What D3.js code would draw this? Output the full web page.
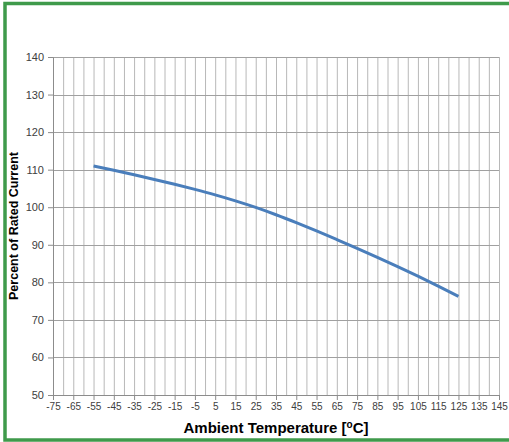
<!DOCTYPE html>
<html>
<head>
<meta charset="utf-8">
<script src="https://cdn.jsdelivr.net/npm/d3@7"></script>
<style>
  body { margin: 0; background: #fff; }
  svg { display: block; }
</style>
</head>
<body>
<svg id="chart"></svg>
<script>
// derating curve
const temps = [-55, -45, -35, -25, -15, -5, 5, 15, 25, 35, 45, 55, 65, 75, 85, 95, 105, 115, 125]
const percents = [111.0, 109.85, 108.65, 107.4, 106.1, 104.75, 103.3, 101.7, 99.95, 98.0, 95.9, 93.7, 91.4, 89.05, 86.65, 84.2, 81.65, 79.0, 76.25]
const xTicks = d3.range(-75, 146, 10)
const xGrid = d3.range(-75, 146, 5)
const yTicks = d3.range(50, 141, 10)

const W = 509, H = 442
const margin = { top: 57, right: 10, bottom: 47, left: 53 }
const width = W - margin.left - margin.right
const height = H - margin.top - margin.bottom

const svg = d3.select('#chart').attr('width', W).attr('height', H)

// green frame, right side runs off the picture
svg.append('rect')
  .attr('x', 5).attr('y', 3.5)
  .attr('width', W + 10).attr('height', 436.5)
  .attr('fill', '#fff')
  .attr('stroke', '#3f9a4b')
  .attr('stroke-width', 3.5)

const g = svg.append('g')
  .attr('transform', `translate(${margin.left},${margin.top})`)

const x = d3.scaleLinear().domain([-75, 145]).range([0, width])
const y = d3.scaleLinear().domain([50, 140]).range([height, 0])

// grid
g.append('g').selectAll('line').data(xGrid).join('line')
  .attr('x1', d => x(d) + 0.5).attr('x2', d => x(d) + 0.5)
  .attr('y1', 0).attr('y2', height)
  .attr('stroke', '#b8b8b8').attr('stroke-width', 1)
g.append('g').selectAll('line').data(yTicks).join('line')
  .attr('x1', 0).attr('x2', width)
  .attr('y1', d => Math.round(y(d)) + 0.5).attr('y2', d => Math.round(y(d)) + 0.5)
  .attr('stroke', '#a0a0a0').attr('stroke-width', 1)

// axes (plain hyphen for negatives, like the original)
const yAxis = g.append('g')
  .call(d3.axisLeft(y).tickValues(yTicks).tickSize(5).tickPadding(4).tickFormat(d => String(d)))
const xAxis = g.append('g')
  .attr('transform', `translate(0,${height})`)
  .call(d3.axisBottom(x).tickValues(xTicks).tickSize(5).tickPadding(3).tickFormat(d => String(d)))

for (const ax of [yAxis, xAxis]) {
  ax.select('.domain').attr('stroke', '#8c8c8c')
  ax.selectAll('.tick line').attr('stroke', '#8c8c8c')
  ax.selectAll('text').attr('fill', '#404040').attr('font-family', 'Liberation Sans, Arial, sans-serif')
}
yAxis.selectAll('text').attr('font-size', 11)
xAxis.selectAll('text').attr('font-size', 10)

// curve
const line = d3.line()
  .x((d, i) => x(temps[i]))
  .y(d => y(d))
  .curve(d3.curveMonotoneX)
g.append('path')
  .datum(percents)
  .attr('fill', 'none')
  .attr('stroke', '#4a7ebb')
  .attr('stroke-width', 3)
  .attr('d', line)

// titles
const xt = svg.append('text')
  .attr('x', margin.left + width / 2).attr('y', 433)
  .attr('text-anchor', 'middle')
  .attr('font-family', 'Liberation Sans, Arial, sans-serif')
  .attr('font-weight', 'bold').attr('font-size', 15)
  .attr('fill', '#000')
xt.append('tspan').text('Ambient Temperature [')
xt.append('tspan').text('o').attr('font-size', 10).attr('dy', -5)
xt.append('tspan').text('C]').attr('dy', 5)

svg.append('text')
  .attr('transform', `translate(18,${margin.top + height / 2}) rotate(-90)`)
  .attr('text-anchor', 'middle')
  .attr('font-family', 'Liberation Sans, Arial, sans-serif')
  .attr('font-weight', 'bold').attr('font-size', 12.5)
  .attr('fill', '#000')
  .text('Percent of Rated Current')
</script>
</body>
</html>
